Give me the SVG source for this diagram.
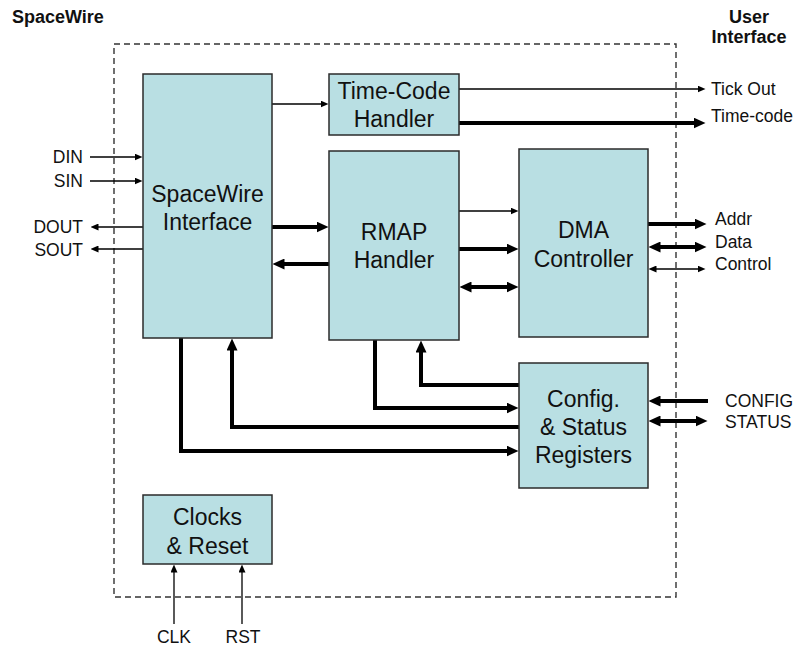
<svg xmlns="http://www.w3.org/2000/svg" width="800" height="651" viewBox="0 0 800 651">
<style>
.box{fill:#b9dfe3;stroke:#2b2b2b;stroke-width:1.5}
.bt{font-family:"Liberation Sans",Arial,sans-serif;font-size:23px;fill:#111;text-anchor:middle}
.lb{font-family:"Liberation Sans",Arial,sans-serif;font-size:17.5px;fill:#111}
.hd{font-family:"Liberation Sans",Arial,sans-serif;font-size:18px;font-weight:bold;fill:#111}
.thin{fill:none;stroke:#000;stroke-width:1.3}
.thick{fill:none;stroke:#000;stroke-width:4;stroke-linejoin:miter}
</style>
<defs>
<marker id="a1" viewBox="0 0 8 7" refX="0.5" refY="3.5" markerWidth="8" markerHeight="7" markerUnits="userSpaceOnUse" orient="auto-start-reverse"><path d="M0,0 L8,3.5 L0,7 z" fill="#000"/></marker>
<marker id="a2" viewBox="0 0 12 11" refX="0.5" refY="5.5" markerWidth="12" markerHeight="11" markerUnits="userSpaceOnUse" orient="auto-start-reverse"><path d="M0,0 L12,5.5 L0,11 z" fill="#000"/></marker>
</defs>
<rect width="800" height="651" fill="#fff"/>
<rect id="boundary" x="114" y="44" width="562" height="553" fill="none" stroke="#333" stroke-width="1.4" stroke-dasharray="6,4"/>
<text class="hd" x="12" y="23">SpaceWire</text>
<text class="hd" x="749" y="23" text-anchor="middle">User</text>
<text class="hd" x="749" y="43" text-anchor="middle">Interface</text>

<g id="connectors">
<line class="thin" x1="272" y1="104" x2="321" y2="104" marker-end="url(#a1)"/>
<line class="thin" x1="459" y1="89" x2="698" y2="89" marker-end="url(#a1)"/>
<line class="thin" x1="90" y1="157" x2="135" y2="157" marker-end="url(#a1)"/>
<line class="thin" x1="90" y1="181" x2="135" y2="181" marker-end="url(#a1)"/>
<line class="thin" x1="143" y1="227" x2="98" y2="227" marker-end="url(#a1)"/>
<line class="thin" x1="143" y1="249" x2="98" y2="249" marker-end="url(#a1)"/>
<line class="thin" x1="459" y1="211" x2="511" y2="211" marker-end="url(#a1)"/>
<line class="thin" x1="656" y1="269" x2="698" y2="269" marker-start="url(#a1)" marker-end="url(#a1)"/>
<line class="thin" x1="174" y1="624" x2="174" y2="572" marker-end="url(#a1)"/>
<line class="thin" x1="242" y1="624" x2="242" y2="572" marker-end="url(#a1)"/>

<line class="thick" x1="459" y1="123" x2="694" y2="123" marker-end="url(#a2)"/>
<line class="thick" x1="272" y1="227" x2="317" y2="227" marker-end="url(#a2)"/>
<line class="thick" x1="329" y1="264" x2="284" y2="264" marker-end="url(#a2)"/>
<line class="thick" x1="459" y1="249" x2="507" y2="249" marker-end="url(#a2)"/>
<line class="thick" x1="471" y1="287" x2="507" y2="287" marker-start="url(#a2)" marker-end="url(#a2)"/>
<line class="thick" x1="648" y1="224" x2="695" y2="224" marker-end="url(#a2)"/>
<line class="thick" x1="660" y1="247" x2="695" y2="247" marker-start="url(#a2)" marker-end="url(#a2)"/>
<line class="thick" x1="708" y1="401" x2="660" y2="401" marker-end="url(#a2)"/>
<line class="thick" x1="660" y1="421" x2="696" y2="421" marker-start="url(#a2)" marker-end="url(#a2)"/>
<path class="thick" d="M181,338 V451 H507" marker-end="url(#a2)"/>
<path class="thick" d="M519,427 H232 V350" marker-end="url(#a2)"/>
<path class="thick" d="M375,340 V408 H507" marker-end="url(#a2)"/>
<path class="thick" d="M519,385 H421 V352" marker-end="url(#a2)"/>
</g>

<g id="spacewire-interface">
<rect class="box" x="143" y="74" width="129" height="264"/>
<text class="bt" x="207.5" y="202">SpaceWire</text>
<text class="bt" x="207.5" y="230">Interface</text>
</g>
<g id="timecode-handler">
<rect class="box" x="329" y="74" width="130" height="61"/>
<text class="bt" x="394" y="99">Time-Code</text>
<text class="bt" x="394" y="127">Handler</text>
</g>
<g id="rmap-handler">
<rect class="box" x="329" y="151" width="130" height="189"/>
<text class="bt" x="394" y="240">RMAP</text>
<text class="bt" x="394" y="268">Handler</text>
</g>
<g id="dma-controller">
<rect class="box" x="519" y="149" width="129" height="188"/>
<text class="bt" x="583.5" y="238">DMA</text>
<text class="bt" x="583.5" y="267">Controller</text>
</g>
<g id="config-status">
<rect class="box" x="519" y="363" width="129" height="125"/>
<text class="bt" x="583.5" y="407">Config.</text>
<text class="bt" x="583.5" y="435">&amp; Status</text>
<text class="bt" x="583.5" y="463">Registers</text>
</g>
<g id="clocks-reset">
<rect class="box" x="143" y="495" width="129" height="69"/>
<text class="bt" x="207.5" y="525">Clocks</text>
<text class="bt" x="207.5" y="554">&amp; Reset</text>
</g>

<g id="labels">
<text class="lb" x="83" y="163" text-anchor="end">DIN</text>
<text class="lb" x="83" y="187" text-anchor="end">SIN</text>
<text class="lb" x="83" y="233" text-anchor="end">DOUT</text>
<text class="lb" x="83" y="256" text-anchor="end">SOUT</text>
<text class="lb" x="711" y="95">Tick Out</text>
<text class="lb" x="711" y="122">Time-code</text>
<text class="lb" x="715" y="225">Addr</text>
<text class="lb" x="715" y="248">Data</text>
<text class="lb" x="715" y="270">Control</text>
<text class="lb" x="725" y="407">CONFIG</text>
<text class="lb" x="725" y="428">STATUS</text>
<text class="lb" x="174" y="643" text-anchor="middle">CLK</text>
<text class="lb" x="243" y="643" text-anchor="middle">RST</text>
</g>
</svg>
